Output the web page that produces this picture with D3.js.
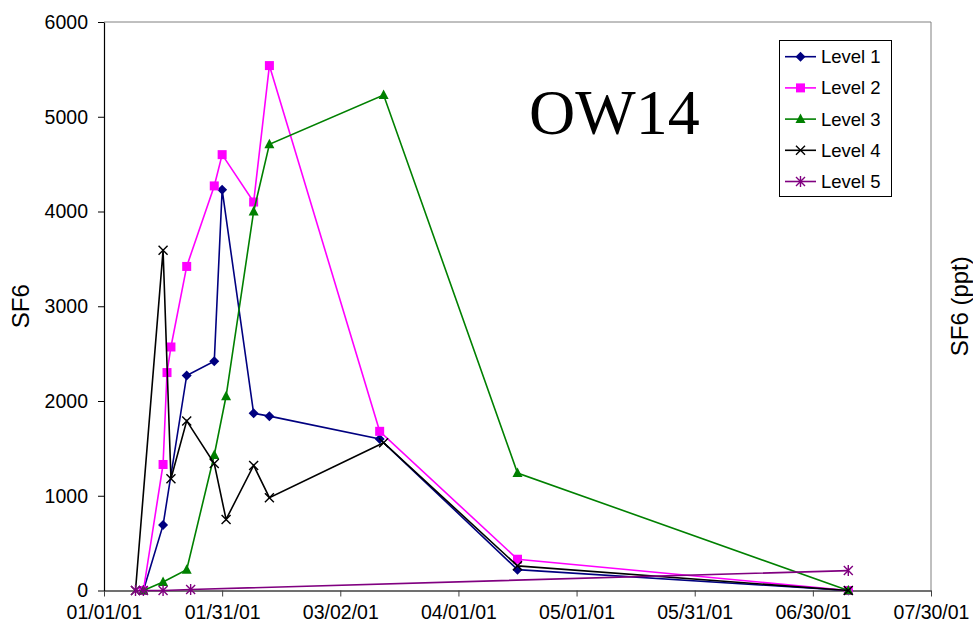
<!DOCTYPE html>
<html>
<head>
<meta charset="utf-8">
<script src="https://cdn.jsdelivr.net/npm/d3@7"></script>
<style>
  html, body { margin: 0; padding: 0; background: #fff; }
  svg { display: block; font-family: Arial, "Liberation Sans", sans-serif; }
</style>
</head>
<body>
<svg id="chart" width="973" height="635"></svg>
<script>
// ---- data ----
const seriesNames = ["Level 1", "Level 2", "Level 3", "Level 4", "Level 5"];

const level1Dates  = ["2001-01-11","2001-01-16","2001-01-22","2001-01-29","2001-01-31","2001-02-08","2001-02-12","2001-03-12","2001-04-16","2001-07-09"];
const level1Values = [0, 690, 2270, 2420, 4230, 1870, 1840, 1600, 220, 0];

const level2Dates  = ["2001-01-11","2001-01-16","2001-01-17","2001-01-18","2001-01-22","2001-01-29","2001-01-31","2001-02-08","2001-02-12","2001-03-12","2001-04-16","2001-07-09"];
const level2Values = [0, 1330, 2300, 2570, 3420, 4270, 4600, 4100, 5540, 1680, 330, 0];

const level3Dates  = ["2001-01-11","2001-01-16","2001-01-22","2001-01-29","2001-02-01","2001-02-08","2001-02-12","2001-03-13","2001-04-16","2001-07-09"];
const level3Values = [0, 90, 220, 1430, 2050, 4000, 4710, 5230, 1240, 0];

const level4Dates  = ["2001-01-09","2001-01-16","2001-01-18","2001-01-22","2001-01-29","2001-02-01","2001-02-08","2001-02-12","2001-03-13","2001-04-16","2001-07-09"];
const level4Values = [0, 3590, 1180, 1790, 1340, 750, 1320, 980, 1560, 260, 0];

const level5Dates  = ["2001-01-09","2001-01-11","2001-01-16","2001-01-23","2001-07-09"];
const level5Values = [0, 0, 0, 10, 210];

const xTickLabels = ["01/01/01","01/31/01","03/02/01","04/01/01","05/01/01","05/31/01","06/30/01","07/30/01"];
const yTickValues = [0, 1000, 2000, 3000, 4000, 5000, 6000];

const chartTitle = "OW14";
const yTitle = "SF6";
const y2Title = "SF6 (ppt)";

// ---- build ----
const parse = d3.timeParse("%Y-%m-%d");
const parseTick = d3.timeParse("%m/%d/%y");
const fmtTick = d3.timeFormat("%m/%d/%y");

const seriesDates = [level1Dates, level2Dates, level3Dates, level4Dates, level5Dates];
const seriesValues = [level1Values, level2Values, level3Values, level4Values, level5Values];
const colors = ["#000080", "#FF00FF", "#008000", "#000000", "#800080"];
const markers = ["diamond", "square", "triangle", "x", "star"];

const series = seriesNames.map((name, i) => ({
  name, color: colors[i], marker: markers[i],
  points: seriesDates[i].map((d, j) => ({ date: parse(d), value: seriesValues[i][j] }))
}));

const svg = d3.select("#chart");
const L = 104, R = 931, T = 22, B = 590.5;

const x = d3.scaleTime()
  .domain([parseTick(xTickLabels[0]), parseTick(xTickLabels[xTickLabels.length - 1])])
  .range([L, R]);
const y = d3.scaleLinear().domain([0, 6000]).range([B, T]);

// plot border (top & right, gray)
svg.append("path")
  .attr("d", `M${L},${T}H${R}V${B}`)
  .attr("fill", "none").attr("stroke", "#808080").attr("stroke-width", 1);

// x axis
const xAxis = d3.axisBottom(x)
  .tickValues(xTickLabels.map(parseTick))
  .tickFormat(fmtTick)
  .tickSize(6).tickPadding(9).tickSizeOuter(0);
const gx = svg.append("g").attr("transform", `translate(0,${B})`).call(xAxis);
gx.select(".domain").attr("stroke", "#404040").attr("stroke-width", 1.3);
gx.selectAll(".tick line").attr("stroke", "#404040");
gx.selectAll(".tick text").attr("font-size", 19.5).attr("fill", "#000")
  .attr("font-family", "Arial, 'Liberation Sans', sans-serif");

// y axis
const yAxis = d3.axisLeft(y).tickValues(yTickValues).tickFormat(d3.format("d"))
  .tickSize(6).tickPadding(10).tickSizeOuter(0);
const gy = svg.append("g").attr("transform", `translate(${L},0)`).call(yAxis);
gy.select(".domain").attr("stroke", "#000").attr("stroke-width", 1.2);
gy.selectAll(".tick line").attr("stroke", "#000");
gy.selectAll(".tick text").attr("font-size", 19.5).attr("fill", "#000")
  .attr("font-family", "Arial, 'Liberation Sans', sans-serif");

// axis titles
svg.append("text").attr("transform", `translate(29,${(T + B) / 2}) rotate(-90)`)
  .attr("text-anchor", "middle").attr("font-size", 24).text(yTitle);
svg.append("text").attr("transform", `translate(968,${(T + B) / 2}) rotate(-90)`)
  .attr("text-anchor", "middle").attr("font-size", 24).text(y2Title);

// marker drawing
function drawMarker(g, type, color) {
  if (type === "diamond") {
    g.append("path").attr("d", "M0,-5L5,0L0,5L-5,0Z").attr("fill", color);
  } else if (type === "square") {
    g.append("rect").attr("x", -4.5).attr("y", -4.5).attr("width", 9).attr("height", 9).attr("fill", color);
  } else if (type === "triangle") {
    g.append("path").attr("d", "M0,-5.5L5,4L-5,4Z").attr("fill", color);
  } else if (type === "x") {
    g.append("path").attr("d", "M-4.5,-4.5L4.5,4.5M-4.5,4.5L4.5,-4.5").attr("stroke", color).attr("stroke-width", 1.4).attr("fill", "none");
  } else if (type === "star") {
    g.append("path").attr("d", "M-4.5,-4.5L4.5,4.5M-4.5,4.5L4.5,-4.5M0,-5.5L0,5.5").attr("stroke", color).attr("stroke-width", 1.4).attr("fill", "none");
  }
}

const line = d3.line().x(d => x(d.date)).y(d => y(d.value));

series.forEach(s => {
  svg.append("path").datum(s.points)
    .attr("d", line).attr("fill", "none")
    .attr("stroke", s.color).attr("stroke-width", 1.6);
  s.points.forEach(p => {
    const g = svg.append("g").attr("transform", `translate(${x(p.date)},${y(p.value)})`);
    drawMarker(g, s.marker, s.color);
  });
});

// legend
const lg = svg.append("g");
lg.append("rect").attr("x", 779.5).attr("y", 40.5).attr("width", 112).attr("height", 156)
  .attr("fill", "#fff").attr("stroke", "#000").attr("stroke-width", 1);
series.forEach((s, i) => {
  const ly = 56.7 + i * 31.2;
  lg.append("line").attr("x1", 785).attr("x2", 816).attr("y1", ly).attr("y2", ly)
    .attr("stroke", s.color).attr("stroke-width", 1.6);
  const g = lg.append("g").attr("transform", `translate(800.5,${ly})`);
  drawMarker(g, s.marker, s.color);
  lg.append("text").attr("x", 821).attr("y", ly).attr("dy", "0.35em")
    .attr("font-size", 18.5).text(s.name);
});

// title
svg.append("text").attr("x", 529).attr("y", 134)
  .attr("font-family", "'Liberation Serif', 'Times New Roman', serif")
  .attr("font-size", 64).attr("fill", "#000").text(chartTitle);
</script>
</body>
</html>
